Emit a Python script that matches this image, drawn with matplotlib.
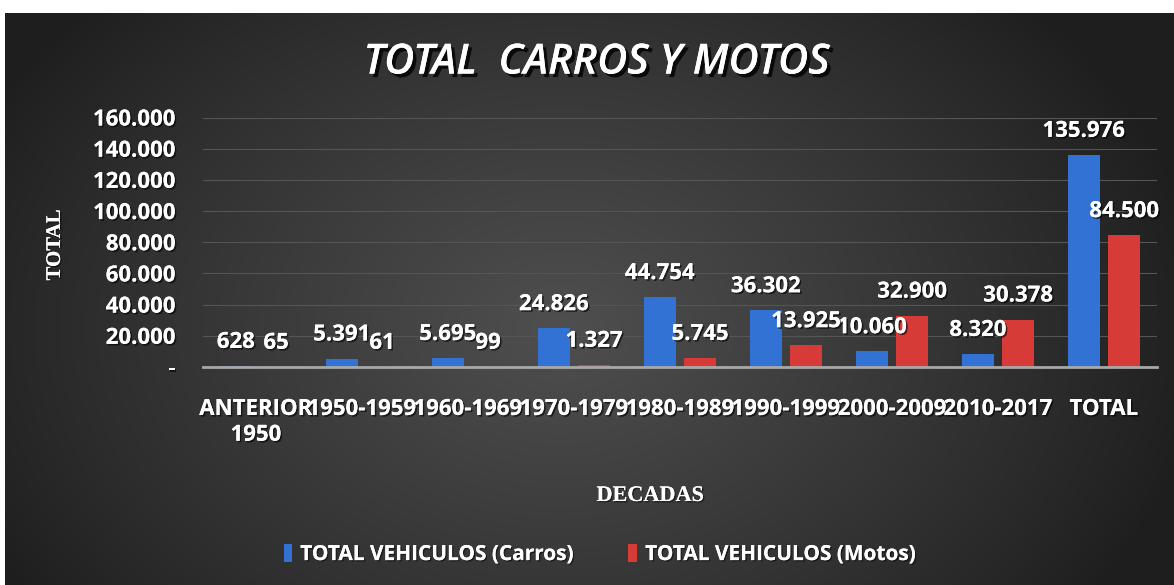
import numpy as np
import matplotlib
matplotlib.use("Agg")
import matplotlib.pyplot as plt
import matplotlib.patheffects as pe
from matplotlib.patches import Patch
from matplotlib.ticker import FuncFormatter

# datos
decadas = ["ANTERIOR\n1950", "1950-1959", "1960-1969", "1970-1979", "1980-1989",
           "1990-1999", "2000-2009", "2010-2017", "TOTAL"]
carros = [628, 5391, 5695, 24826, 44754, 36302, 10060, 8320, 135976]
motos = [65, 61, 99, 1327, 5745, 13925, 32900, 30378, 84500]
series_names = ["TOTAL VEHICULOS (Carros)", "TOTAL VEHICULOS (Motos)"]
y_ticks = [0, 20000, 40000, 60000, 80000, 100000, 120000, 140000, 160000]

AZUL = "#3172d4"
ROJO = "#d63b37"
FONT = "Open Sans"


def miles(v, pos=None):
    if v == 0:
        return "-"
    return f"{int(v):,}".replace(",", ".")


def sombra(off=1.5, alpha=0.7):
    return [pe.withSimplePatchShadow(offset=(off, -off), shadow_rgbFace="black", alpha=alpha),
            pe.Normal()]


fig = plt.figure(figsize=(11.74, 5.85), dpi=100)
fig.patch.set_facecolor("white")

# fondo degradado oscuro
bg = fig.add_axes([5 / 1174, 0, 1169 / 1174, 572 / 585], zorder=-10)
yy, xx = np.mgrid[-1:1:300j, -1:1:600j]
r = np.sqrt((xx + 0.05) ** 2 + ((yy - 0.1) / 1.5) ** 2)
grad = np.clip(1 - r / 1.1, 0, 1) ** 0.9
level = 0.12 + 0.19 * grad
bg.imshow(np.dstack([level, level, level]), aspect="auto", interpolation="bilinear")
bg.axis("off")

ax = fig.add_axes([203 / 1174, 218 / 585, 954 / 1174, 249.5 / 585])
ax.set_facecolor("none")

x = np.arange(len(decadas))
w = 0.30
off = 0.19
b1 = ax.bar(x - off, carros, w, color=AZUL, label=series_names[0], zorder=3)
b2 = ax.bar(x + off, motos, w, color=ROJO, label=series_names[1], zorder=3)

# etiquetas de datos
for bars, vals in ((b1, carros), (b2, motos)):
    for rect, v in zip(bars, vals):
        ax.annotate(miles(v), (rect.get_x() + rect.get_width() / 2, v),
                    xytext=(0, 17), textcoords="offset points", ha="center", va="center",
                    color="white", fontsize=16, fontweight="bold", family=FONT,
                    path_effects=sombra(1.2, 0.6), zorder=5, annotation_clip=False)

ax.set_xlim(-0.5, len(decadas) - 0.5)
ax.set_ylim(0, 160000)
ax.set_yticks(y_ticks)
ax.yaxis.set_major_formatter(FuncFormatter(miles))
ax.set_xticks(x)
ax.set_xticklabels(decadas)

ax.grid(axis="y", color="#555555", linewidth=0.8, zorder=0)
for s in ["top", "right", "left"]:
    ax.spines[s].set_visible(False)
ax.spines["bottom"].set_color("#a8a8a8")
ax.spines["bottom"].set_linewidth(2)
ax.spines["bottom"].set_zorder(4)

ax.tick_params(axis="both", length=0, colors="white")
ax.tick_params(axis="y", pad=20)
ax.tick_params(axis="x", pad=23)
for lab in ax.get_yticklabels() + ax.get_xticklabels():
    lab.set_fontfamily(FONT)
    lab.set_fontweight("bold")
    lab.set_fontsize(16)
    lab.set_path_effects(sombra(1.2, 0.6))
for lab in ax.get_xticklabels():
    lab.set_linespacing(1.3)

ax.set_ylabel("TOTAL", family="Liberation Serif", fontweight="bold", fontsize=15,
              color="white", path_effects=sombra(1, 0.5))
ax.yaxis.set_label_coords(-138 / 954, 0.49)
ax.set_xlabel("DECADAS", family="Liberation Serif", fontweight="bold", fontsize=16,
              color="white", path_effects=sombra(1, 0.5))
ax.xaxis.set_label_coords(0.469, -119 / 249.5)

fig.text(0.508, 0.893, "TOTAL  CARROS Y MOTOS", ha="center", va="center", color="white",
         fontsize=30, fontweight="semibold", fontstyle="italic", family=FONT,
         path_effects=sombra(2.5, 0.8))

handles = [Patch(facecolor=AZUL), Patch(facecolor=ROJO)]
leg = fig.legend(handles, series_names, loc="center", bbox_to_anchor=(0.511, 0.052), ncol=2,
                 frameon=False, handlelength=0.4, handleheight=0.9, handletextpad=0.4,
                 columnspacing=2.6,
                 prop={"family": FONT, "weight": "bold", "size": 15})
for t in leg.get_texts():
    t.set_color("white")
    t.set_path_effects(sombra(1, 0.5))

fig.savefig("out.png", dpi=100, facecolor=fig.get_facecolor())
